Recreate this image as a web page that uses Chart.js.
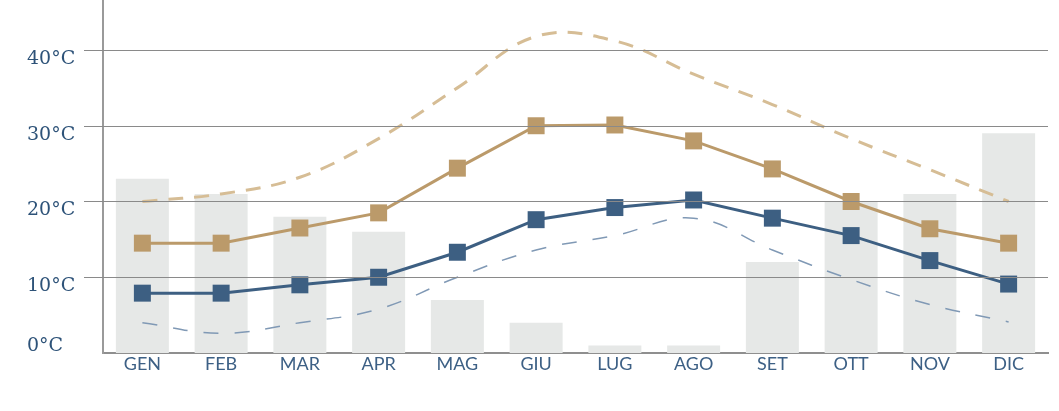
<!DOCTYPE html>
<html>
<head>
<meta charset="utf-8">
<script src="https://cdn.jsdelivr.net/npm/chart.js@4.4.0/dist/chart.umd.min.js"></script>
<style>
html,body{margin:0;padding:0;background:#fff;}
#wrap{width:1059px;height:411px;position:relative;}
</style>
</head>
<body>
<div id="wrap"><canvas id="c"></canvas></div>
<script>
const months = ['GEN','FEB','MAR','APR','MAG','GIU','LUG','AGO','SET','OTT','NOV','DIC'];
const rainfall = [23, 21, 18, 16, 7, 4, 1, 1, 12, 20, 21, 29];
const avgMax = [14.5, 14.5, 16.5, 18.5, 24.4, 30, 30.1, 28, 24.3, 20, 16.4, 14.5];
const avgMin = [7.9, 7.9, 9, 10, 13.3, 17.6, 19.2, 20.2, 17.8, 15.5, 12.2, 9.1];
const recordMax = [20, 21, 23.2, 28.3, 35, 41.8, 41.2, 36.8, 32.8, 28.3, 24.2, 20];
const recordMin = [4, 2.6, 4, 5.8, 10, 13.6, 15.5, 17.8, 13.6, 9.7, 6.4, 4.1];
const yTicks = [0, 10, 20, 30, 40];
const yTickLabels = ['0°C', '10°C', '20°C', '30°C', '40°C'];

const TAN = '#bb9a6a', BLUE = '#3d5f82';

const overlay = {
  id: 'overlay',
  afterDatasetsDraw(chart) {
    const ctx = chart.ctx, y = chart.scales.y, a = chart.chartArea;
    ctx.save();
    ctx.strokeStyle = '#8a8a8a';
    ctx.lineWidth = 1;
    yTicks.forEach(v => {
      if (v === 0) return;
      const py = Math.round(y.getPixelForValue(v)) + 0.5;
      ctx.beginPath(); ctx.moveTo(84, py); ctx.lineTo(a.right, py); ctx.stroke();
    });
    ctx.restore();
  },
  afterDraw(chart) {
    const ctx = chart.ctx, y = chart.scales.y;
    ctx.save();
    ctx.fillStyle = '#2d5278';
    ctx.font = '19px "DejaVu Serif", serif';
    ctx.textAlign = 'left';
    ctx.textBaseline = 'middle';
    yTicks.forEach((v, i) => {
      const py = y.getPixelForValue(v);
      ctx.fillText(yTickLabels[i], 27, v === 0 ? py - 7 : py + 9);
    });
    ctx.restore();
  }
};

new Chart(document.getElementById('c'), {
  data: {
    labels: months,
    datasets: [
      { type: 'bar', data: rainfall, backgroundColor: '#e6e8e7', order: 10,
        categoryPercentage: 1, barPercentage: 0.673 },
      { type: 'line', data: recordMax, borderColor: '#d6bd95', borderWidth: 3,
        borderDash: [15, 11], tension: 0.4, pointRadius: 0, order: 4 },
      { type: 'line', data: recordMin, borderColor: '#8099b5', borderWidth: 1.5,
        borderDash: [15, 16], tension: 0.4, pointRadius: 0, order: 3 },
      { type: 'line', data: avgMax, borderColor: TAN, borderWidth: 3, tension: 0,
        pointStyle: 'rect', pointRadius: 12, pointBackgroundColor: TAN,
        pointBorderWidth: 0, order: 2 },
      { type: 'line', data: avgMin, borderColor: BLUE, borderWidth: 3, tension: 0,
        pointStyle: 'rect', pointRadius: 12, pointBackgroundColor: BLUE,
        pointBorderWidth: 0, order: 1 }
    ]
  },
  options: {
    responsive: true,
    maintainAspectRatio: false,
    animation: false,
    layout: { autoPadding: false, padding: { top: 0, right: 11, left: 0, bottom: 0 } },
    plugins: { legend: { display: false }, tooltip: { enabled: false } },
    scales: {
      x: {
        grid: { display: false },
        border: { display: true, color: '#8f8f8f', width: 2 },
        ticks: { color: '#3d6085', padding: -8, font: { family: 'Lato', size: 18 } },
        afterFit(s) { s.height = 58; }
      },
      y: {
        min: 0, max: 46.6,
        grid: { display: false },
        border: { display: true, color: '#9a9a9a', width: 2 },
        ticks: { display: false, stepSize: 10 },
        afterFit(s) { s.width = 103; }
      }
    }
  },
  plugins: [overlay]
});
</script>
</body>
</html>
